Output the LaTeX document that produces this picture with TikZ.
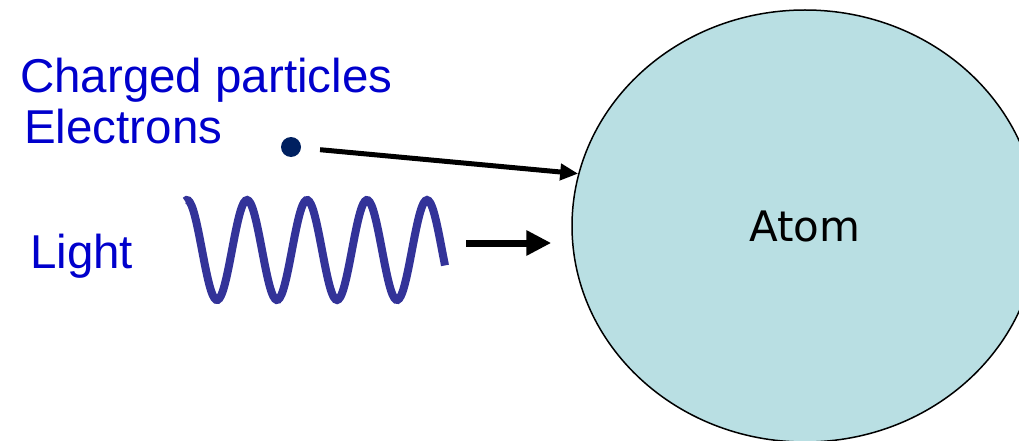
\documentclass[tikz,border=0pt]{standalone}
\usepackage{fontspec}
\setmainfont{Liberation Sans}
\newfontfamily\atomfont{DejaVu Sans}
\usepackage{xcolor}
\definecolor{tblue}{RGB}{0,0,204}
\definecolor{wblue}{RGB}{51,51,153}
\definecolor{dnavy}{RGB}{0,32,96}
\definecolor{lteal}{RGB}{185,223,227}
\usetikzlibrary{arrows.meta,shapes.geometric}

\begin{document}
\begin{tikzpicture}[x=1pt,y=-1pt,
  lbl/.style={anchor=base west,inner sep=0pt,text=tblue,font=\fontsize{47.5}{57}\selectfont},
  abox/.style={ellipse,draw,line width=1.5pt,fill=lteal,minimum width=466pt,minimum height=432pt,inner sep=0pt,font=\atomfont\fontsize{42}{50}\selectfont},
  pdot/.style={circle,fill=dnavy,minimum size=20pt,inner sep=0pt},
  wave/.style={wblue,line width=8pt},
  arrow/.style={-{Triangle[length=18pt,width=16pt]},line width=5pt},
  bigarrow/.style={-{Triangle[length=25pt,width=24pt]},line width=7pt}
]
  \useasboundingbox (0,0) rectangle (1019,441);

  \node[abox] (atom) at (805,226) {Atom};

  \node[lbl] (charged) at (20,93) {Charged particles};
  \node[lbl] (elec) at (24,143) {Electrons};
  \node[lbl] (light) at (30,268) {Light};

  \node[pdot] (dot) at (291,147) {};
  \draw[wave] plot[domain=185:445,samples=160,smooth] (\x,{250-50*cos(6*(\x-247))});
  \coordinate (wend) at (466,243);

  \draw[arrow,shorten <=19pt] (dot) -- (atom.167);
  \draw[bigarrow,shorten >=20pt] (wend) -- (wend -| atom.west);
\end{tikzpicture}
\end{document}
